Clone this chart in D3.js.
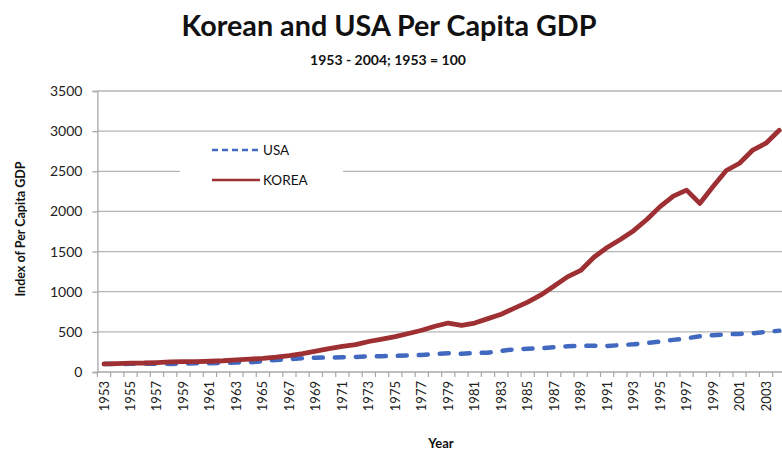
<!DOCTYPE html>
<html>
<head>
<meta charset="utf-8">
<script src="https://cdn.jsdelivr.net/npm/d3@7"></script>
<style>
  html, body { margin: 0; padding: 0; background: #fff; }
  svg { display: block; }
  text { font-family: Lato, "Open Sans", sans-serif; }
</style>
</head>
<body>
<div id="chart"></div>
<script>
// ---- data ----
const years = d3.range(1953, 2005);
const usa = [100, 98, 102, 103, 104, 101, 105, 108, 110, 114,
             117, 121, 135, 150, 160, 171, 178, 180, 183, 188,
             195, 197, 200, 206, 212, 224, 233, 226, 236, 241,
             262, 283, 290, 295, 308, 320, 325, 326, 324, 335,
             345, 360, 378, 400, 420, 445, 458, 470, 474, 483,
             498, 515];
const korea = [100, 105, 110, 112, 118, 125, 128, 130, 134, 140,
               150, 160, 170, 185, 205, 230, 260, 290, 320, 340,
               380, 410, 440, 480, 520, 570, 610, 580, 610, 665,
               720, 795, 870, 960, 1070, 1185, 1265, 1430, 1550, 1650,
               1760, 1900, 2060, 2190, 2265, 2100, 2310, 2510, 2600, 2765,
               2850, 3010];
const yTicks = [0, 500, 1000, 1500, 2000, 2500, 3000, 3500];
const xTickLabels = years.filter(y => (y - 1953) % 2 === 0);
const seriesNames = ["USA", "KOREA"];

// ---- layout ----
const W = 782, H = 450;
const plotLeft = 97.4, bandW = 13.24;
const plotRight = plotLeft + bandW * years.length;
const plotTop = 91, plotBottom = 372;

const svg = d3.select("#chart").append("svg")
  .attr("width", W).attr("height", H);

const x = d3.scaleBand().domain(years).range([plotLeft, plotRight]).padding(0);
const y = d3.scaleLinear().domain([0, 3500]).range([plotBottom, plotTop]);
const cx = d => x(d) + x.bandwidth() / 2;

// gridlines
svg.append("g").selectAll("line").data(yTicks.filter(t => t > 0)).join("line")
  .attr("x1", plotLeft).attr("x2", plotRight)
  .attr("y1", d => y(d)).attr("y2", d => y(d))
  .attr("stroke", "#b4b4b4").attr("stroke-width", 1.3);

// y axis
const yAxis = d3.axisLeft(y).tickValues(yTicks).tickFormat(d3.format("d"))
  .tickSize(5).tickPadding(10);
const gy = svg.append("g").attr("transform", `translate(${plotLeft},0)`).call(yAxis);
gy.select(".domain").attr("stroke", "#a8a8a8").attr("stroke-width", 1.3);
gy.selectAll(".tick line").attr("stroke", "#a8a8a8").attr("stroke-width", 1.3);
gy.selectAll(".tick text").attr("font-size", 14).attr("fill", "#222")
  .style("font-family", "Lato, sans-serif");

// x axis: band boundary ticks
const bounds = years.map(d => x(d)).concat([plotRight]);
svg.append("g").selectAll("line").data(bounds).join("line")
  .attr("x1", d => d).attr("x2", d => d)
  .attr("y1", plotBottom).attr("y2", plotBottom + 5)
  .attr("stroke", "#a8a8a8").attr("stroke-width", 1.2);
svg.append("line").attr("x1", plotLeft).attr("x2", plotRight)
  .attr("y1", plotBottom).attr("y2", plotBottom)
  .attr("stroke", "#a8a8a8").attr("stroke-width", 1.3);

// x tick labels (rotated)
svg.append("g").selectAll("text").data(xTickLabels).join("text")
  .attr("transform", d => `translate(${cx(d) + 4.5},${plotBottom + 9}) rotate(-90)`)
  .attr("text-anchor", "end")
  .attr("font-size", 13).attr("fill", "#222")
  .text(d => d);

// lines
const line = vals => d3.line().x((d, i) => cx(years[i])).y(d => y(d))(vals);
svg.append("path").attr("d", line(usa))
  .attr("fill", "none").attr("stroke", "#4169bf").attr("stroke-width", 4.5)
  .attr("stroke-dasharray", "9,12").attr("stroke-linecap", "round");
svg.append("path").attr("d", line(korea))
  .attr("fill", "none").attr("stroke", "#9e3033").attr("stroke-width", 4.8)
  .attr("stroke-linejoin", "round").attr("stroke-linecap", "round");

// legend
const lg = svg.append("g");
lg.append("rect").attr("x", 180).attr("y", 138).attr("width", 163).attr("height", 62)
  .attr("fill", "#fff");
const legendItems = [
  { name: seriesNames[0], color: "#4169bf", dash: "6,4", y: 150 },
  { name: seriesNames[1], color: "#9e3033", dash: null, y: 180 }
];
legendItems.forEach(it => {
  lg.append("line").attr("x1", 212).attr("x2", 260).attr("y1", it.y).attr("y2", it.y)
    .attr("stroke", it.color).attr("stroke-width", 2.6)
    .attr("stroke-dasharray", it.dash);
  lg.append("text").attr("x", 263).attr("y", it.y + 5)
    .attr("font-size", 13.5).attr("fill", "#111").text(it.name);
});

// titles
svg.append("text").attr("x", 389).attr("y", 36).attr("text-anchor", "middle")
  .attr("font-size", 28).attr("font-weight", "bold").attr("fill", "#111")
  .attr("textLength", 415).attr("lengthAdjust", "spacingAndGlyphs")
  .text("Korean and USA Per Capita GDP");
svg.append("text").attr("x", 388).attr("y", 65).attr("text-anchor", "middle")
  .attr("font-size", 14).attr("font-weight", "bold").attr("fill", "#111")
  .text("1953 - 2004; 1953 = 100");

// axis titles
svg.append("text").attr("transform", "translate(25,229) rotate(-90)")
  .attr("text-anchor", "middle").attr("font-size", 12.5).attr("font-weight", "bold")
  .attr("fill", "#111").text("Index of Per Capita GDP");
svg.append("text").attr("x", 441).attr("y", 448).attr("text-anchor", "middle")
  .attr("font-size", 13).attr("font-weight", "bold").attr("fill", "#111").text("Year");
</script>
</body>
</html>
